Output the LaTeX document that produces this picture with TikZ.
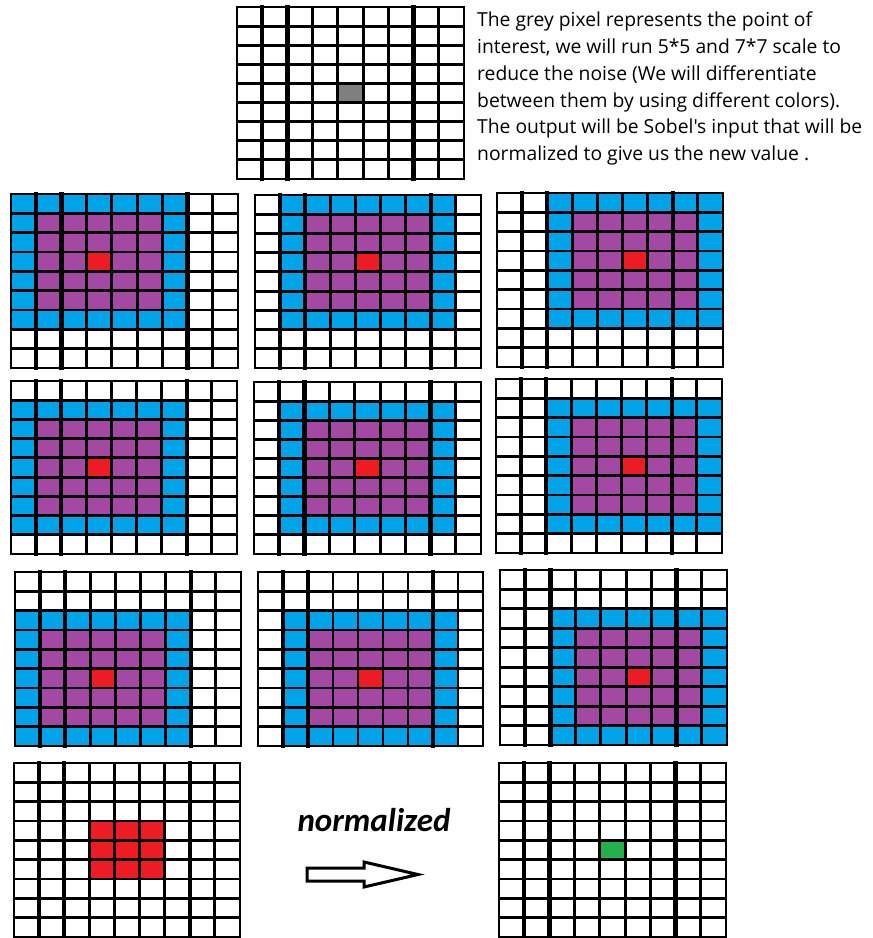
\documentclass[tikz,border=0pt]{standalone}
\usepackage{fontspec}
\newfontfamily\calib{Carlito}
\newfontfamily\segoe{Open Sans}
\definecolor{pblue}{HTML}{00A2E8}
\definecolor{ppurple}{HTML}{A349A4}
\definecolor{pred}{HTML}{ED1C24}
\definecolor{pgray}{HTML}{7F7F7F}
\definecolor{pgreen}{HTML}{22B14C}
\newcommand\setgrid[4]{\def\gx{#1}\def\gy{#2}\pgfmathsetmacro\gw{(#3-#1)/9}\pgfmathsetmacro\gh{(#4-#2)/9}}
\newcommand\fillcells[5]{\fill[#5] ({\gx+(#1)*\gw},{\gy+(#2)*\gh}) rectangle ({\gx+((#3)+1)*\gw},{\gy+((#4)+1)*\gh});}
\newcommand\kernel[2]{%
  \fillcells{#1}{#2}{#1+6}{#2+6}{pblue}%
  \fillcells{#1+1}{#2+1}{#1+5}{#2+5}{ppurple}%
  \fillcells{#1+3}{#2+3}{#1+3}{#2+3}{pred}}
\newcommand\drawgrid{%
  \foreach \i in {0,...,9}{%
    \draw[gridline] ({\gx+\i*\gw},\gy) -- ({\gx+\i*\gw},{\gy+9*\gh});
    \draw[gridline] (\gx,{\gy+\i*\gh}) -- ({\gx+9*\gw},{\gy+\i*\gh});}
  \foreach \i in {1,2,7}{%
    \draw[thickline] ({\gx+\i*\gw},\gy) -- ({\gx+\i*\gw},{\gy+9*\gh});}
  \draw[gridline] (\gx,\gy) rectangle ({\gx+9*\gw},{\gy+9*\gh});}
\begin{document}
\begin{tikzpicture}[x=1pt,y=-1pt,
  gridline/.style={draw=black,line width=2.8pt,line cap=rect},
  thickline/.style={draw=black,line width=4.4pt,line cap=rect},
  desc/.style={font=\segoe\fontsize{19.3}{26.7}\selectfont,align=left,inner sep=0pt,anchor=north west},
  label/.style={font=\calib\bfseries\itshape\fontsize{33}{38}\selectfont,inner sep=0pt,anchor=base},
  blockarrow/.style={draw=black,fill=white,line width=3pt,line join=miter}]
\useasboundingbox[fill=white] (0,0) rectangle (873,938);
% top grid
\coordinate (gtop) at (237,7);
\setgrid{237}{7}{464}{179}
\fillcells{4}{4}{4}{4}{pgray}
\drawgrid
\node[desc] (txt) at (477,12) {The grey pixel represents the point of\\interest, we will run 5*5 and 7*7 scale to\\reduce the noise (We will differentiate\\between them by using different colors).\\The output will be Sobel's input that will be\\normalized to give us the new value .};
% row 1
\coordinate (ga) at (11,194);
\setgrid{11}{194}{238}{368}\kernel{0}{0}\drawgrid
\coordinate (gb) at (255,195);
\setgrid{255}{195}{481}{368}\kernel{1}{0}\drawgrid
\coordinate (gc) at (497,193);
\setgrid{497}{193}{723}{367}\kernel{2}{0}\drawgrid
% row 2
\coordinate (gd) at (11,381);
\setgrid{11}{381}{237}{554}\kernel{0}{1}\drawgrid
\coordinate (ge) at (254,382);
\setgrid{254}{382}{481}{554}\kernel{1}{1}\drawgrid
\coordinate (gf) at (496,379);
\setgrid{496}{379}{722}{553}\kernel{2}{1}\drawgrid
% row 3
\coordinate (gg) at (15,572);
\setgrid{15}{572}{241}{746}\kernel{0}{2}\drawgrid
\coordinate (gh) at (258,572);
\setgrid{258}{572}{483}{746}\kernel{1}{2}\drawgrid
\coordinate (gi) at (500,570);
\setgrid{500}{570}{727}{745}\kernel{2}{2}\drawgrid
% row 4
\coordinate (gj) at (14,763);
\setgrid{14}{763}{240}{937}
\fillcells{3}{3}{5}{5}{pred}
\drawgrid
\coordinate (gk) at (499,763);
\setgrid{499}{763}{726}{937}
\fillcells{4}{4}{4}{4}{pgreen}
\drawgrid
% label and arrow
\node[label] (norm) at (374,831) {normalized};
\coordinate (atail) at (307,874.5);
\coordinate (atip) at (418,874.5);
\draw[blockarrow] (atail) ++(0,-6.5) -- (364,868) -- (364,862) -- (atip) -- (364,887) -- (364,881) -- (307,881) -- cycle;
\end{tikzpicture}
\end{document}
